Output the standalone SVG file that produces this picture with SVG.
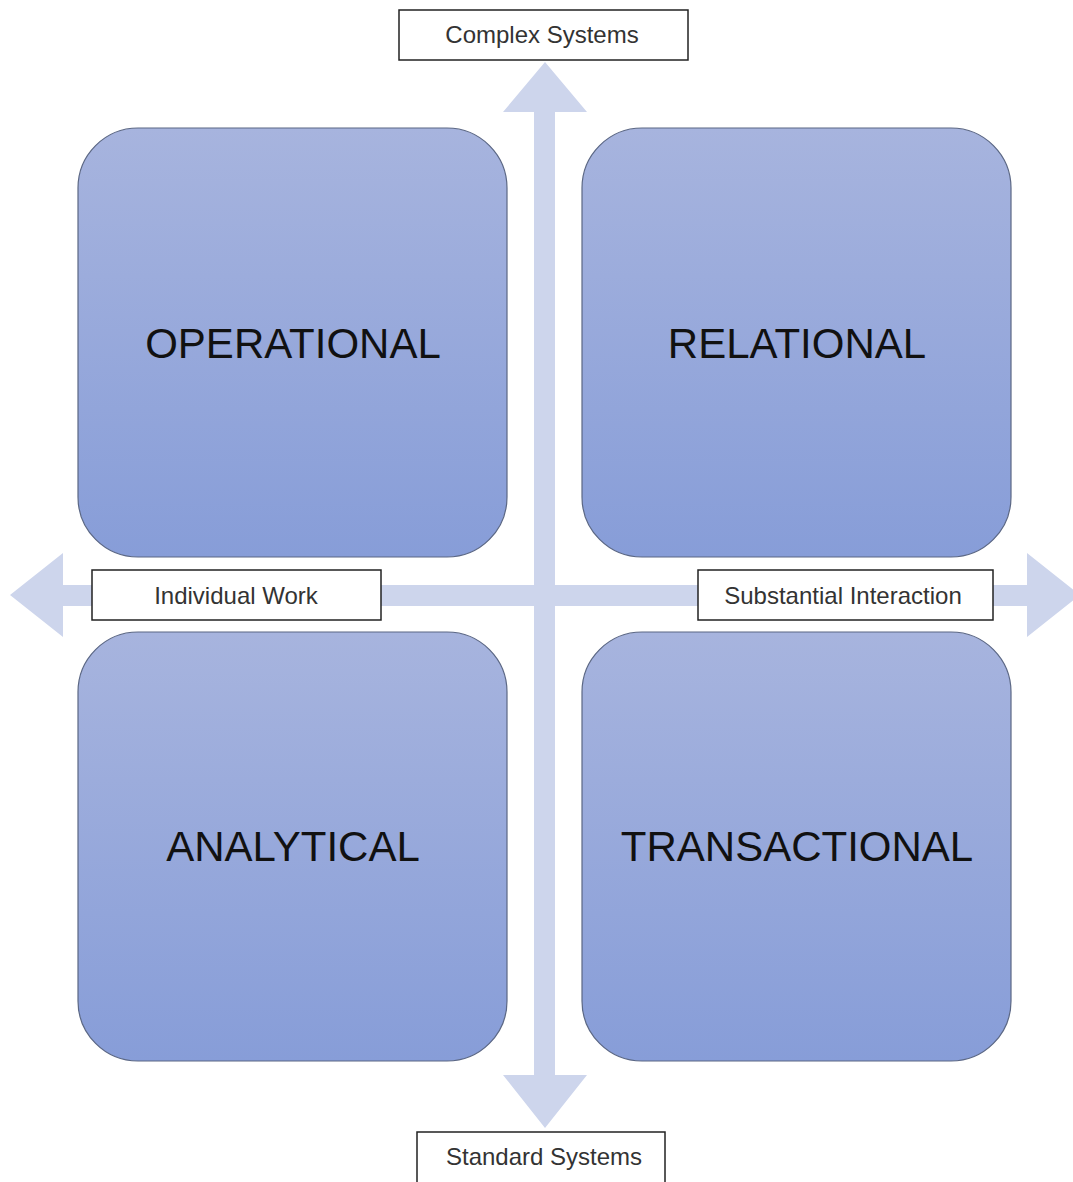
<svg xmlns="http://www.w3.org/2000/svg" width="1073" height="1182" viewBox="0 0 1073 1182">
  <defs>
    <linearGradient id="quadFill" x1="0" y1="0" x2="0" y2="1">
      <stop offset="0" stop-color="#a7b4de"/>
      <stop offset="1" stop-color="#879dd8"/>
    </linearGradient>
    <style>
      .quad { fill: url(#quadFill); stroke: #5b6784; stroke-width: 1.2; }
      .quad-text { font-family: "Liberation Sans", Arial, sans-serif; font-size: 42px; fill: #111; text-anchor: middle; }
      .label-box { fill: #fff; stroke: #222; stroke-width: 1.5; }
      .label-text { font-family: "Liberation Sans", Arial, sans-serif; font-size: 24px; fill: #333; text-anchor: middle; }
      .axis { fill: #cdd5ec; }
    </style>
  </defs>

  <rect width="1073" height="1182" fill="#fff"/>

  <!-- axes: two double-headed block arrows -->
  <g id="connectors">
    <path id="axis-vertical" class="axis" d="M545 62 L587 112 L555 112 L555 1075 L587 1075 L545 1128 L503 1075 L534 1075 L534 112 L503 112 Z"/>
    <path id="axis-horizontal" class="axis" d="M10 595 L63 553 L63 585 L1027 585 L1027 553 L1080 595 L1027 637 L1027 606 L63 606 L63 637 Z"/>
  </g>

  <!-- quadrants -->
  <g id="operational">
    <rect class="quad" x="78" y="128" width="429" height="429" rx="60" ry="60"/>
    <text class="quad-text" x="293" y="358">OPERATIONAL</text>
  </g>
  <g id="relational">
    <rect class="quad" x="582" y="128" width="429" height="429" rx="60" ry="60"/>
    <text class="quad-text" x="797" y="358">RELATIONAL</text>
  </g>
  <g id="analytical">
    <rect class="quad" x="78" y="632" width="429" height="429" rx="60" ry="60"/>
    <text class="quad-text" x="293" y="861">ANALYTICAL</text>
  </g>
  <g id="transactional">
    <rect class="quad" x="582" y="632" width="429" height="429" rx="60" ry="60"/>
    <text class="quad-text" x="797" y="861">TRANSACTIONAL</text>
  </g>

  <!-- axis end labels -->
  <g id="complex-systems">
    <rect class="label-box" x="399" y="10" width="289" height="50"/>
    <text class="label-text" x="542" y="43">Complex Systems</text>
  </g>
  <g id="individual-work">
    <rect class="label-box" x="92" y="570" width="289" height="50"/>
    <text class="label-text" x="236" y="604">Individual Work</text>
  </g>
  <g id="substantial-interaction">
    <rect class="label-box" x="698" y="570" width="295" height="50"/>
    <text class="label-text" x="843" y="604">Substantial Interaction</text>
  </g>
  <g id="standard-systems">
    <rect class="label-box" x="417" y="1132" width="248" height="52"/>
    <text class="label-text" x="544" y="1165">Standard Systems</text>
  </g>
</svg>
